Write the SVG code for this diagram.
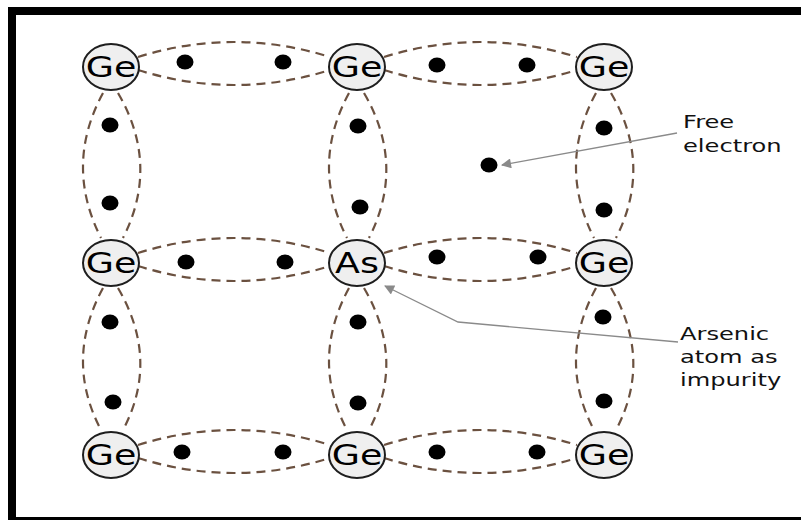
<svg xmlns="http://www.w3.org/2000/svg" width="801" height="520" viewBox="0 0 801 520">
<defs>
<style>
.bond{fill:none;stroke:#6b5140;stroke-width:2.2;stroke-dasharray:9 6}
.atom{fill:#efefef;stroke:#1e1e1e;stroke-width:2}
.el{fill:#000}
.lbl{font-family:"DejaVu Sans","Verdana",sans-serif;font-size:28px;fill:#000;text-anchor:middle}
.note{font-family:"DejaVu Sans","Verdana",sans-serif;font-size:17.5px;fill:#111}
.ptr{fill:none;stroke:#8a8a8a;stroke-width:1.3}
</style>
<marker id="ah" viewBox="0 0 10 10" refX="9" refY="5" markerWidth="12" markerHeight="10" markerUnits="userSpaceOnUse" orient="auto">
<path d="M0,0 L10,5 L0,10 z" fill="#8a8a8a"/>
</marker>
</defs>
<rect width="801" height="520" fill="#fff"/>
<rect x="12" y="11" width="800" height="510" fill="none" stroke="#000" stroke-width="8"/>

<g id="connectors">
<path class="bond" d="M138,57 Q234,27 330,57 M138,70 Q234,100 330,70"/>
<path class="bond" d="M384,57 Q480,27 577,57 M384,70 Q480,100 577,70"/>
<path class="bond" d="M138,253 Q234,223 330,253 M138,266 Q234,296 330,266"/>
<path class="bond" d="M384,253 Q480,223 577,253 M384,266 Q480,296 577,266"/>
<path class="bond" d="M138,445 Q234,415 330,445 M138,458 Q234,488 330,458"/>
<path class="bond" d="M384,445 Q480,415 577,445 M384,458 Q480,488 577,458"/>
<path class="bond" d="M103,93 Q64,165 101,238 M118,93 Q160,165 123,238"/>
<path class="bond" d="M349,93 Q310,165 347,238 M364,93 Q406,165 369,238"/>
<path class="bond" d="M596,93 Q557,165 594,238 M611,93 Q653,165 616,238"/>
<path class="bond" d="M103,288 Q64,360 101,430 M118,288 Q160,360 123,430"/>
<path class="bond" d="M349,288 Q310,360 347,430 M364,288 Q406,360 369,430"/>
<path class="bond" d="M596,288 Q557,360 594,430 M611,288 Q653,360 616,430"/>
<path class="ptr" d="M677,133 L502,165" marker-end="url(#ah)"/>
<path class="ptr" d="M678,342 L458,322 L385,286" marker-end="url(#ah)"/>
</g>

<g id="electrons">
<ellipse class="el" cx="185" cy="62" rx="8.5" ry="7.5"/>
<ellipse class="el" cx="283" cy="62" rx="8.5" ry="7.5"/>
<ellipse class="el" cx="437" cy="65" rx="8.5" ry="7.5"/>
<ellipse class="el" cx="527" cy="65" rx="8.5" ry="7.5"/>
<ellipse class="el" cx="186" cy="262" rx="8.5" ry="7.5"/>
<ellipse class="el" cx="285" cy="262" rx="8.5" ry="7.5"/>
<ellipse class="el" cx="437" cy="257" rx="8.5" ry="7.5"/>
<ellipse class="el" cx="538" cy="257" rx="8.5" ry="7.5"/>
<ellipse class="el" cx="182" cy="452" rx="8.5" ry="7.5"/>
<ellipse class="el" cx="283" cy="452" rx="8.5" ry="7.5"/>
<ellipse class="el" cx="437" cy="452" rx="8.5" ry="7.5"/>
<ellipse class="el" cx="537" cy="452" rx="8.5" ry="7.5"/>
<ellipse class="el" cx="110" cy="125" rx="8.5" ry="7.5"/>
<ellipse class="el" cx="110" cy="203" rx="8.5" ry="7.5"/>
<ellipse class="el" cx="110" cy="322" rx="8.5" ry="7.5"/>
<ellipse class="el" cx="113" cy="402" rx="8.5" ry="7.5"/>
<ellipse class="el" cx="358" cy="126" rx="8.5" ry="7.5"/>
<ellipse class="el" cx="360" cy="207" rx="8.5" ry="7.5"/>
<ellipse class="el" cx="358" cy="322" rx="8.5" ry="7.5"/>
<ellipse class="el" cx="358" cy="403" rx="8.5" ry="7.5"/>
<ellipse class="el" cx="604" cy="128" rx="8.5" ry="7.5"/>
<ellipse class="el" cx="604" cy="210" rx="8.5" ry="7.5"/>
<ellipse class="el" cx="603" cy="317" rx="8.5" ry="7.5"/>
<ellipse class="el" cx="604" cy="401" rx="8.5" ry="7.5"/>
<ellipse class="el" cx="489" cy="165" rx="8.5" ry="7.5"/>
</g>

<g id="n11"><ellipse class="atom" cx="111" cy="67" rx="28" ry="23"/><text class="lbl" transform="translate(111,77) scale(1.3,1)">Ge</text></g>
<g id="n12"><ellipse class="atom" cx="357" cy="67" rx="28" ry="23"/><text class="lbl" transform="translate(357,77) scale(1.3,1)">Ge</text></g>
<g id="n13"><ellipse class="atom" cx="604" cy="67" rx="28" ry="23"/><text class="lbl" transform="translate(604,77) scale(1.3,1)">Ge</text></g>
<g id="n21"><ellipse class="atom" cx="111" cy="263" rx="28" ry="23"/><text class="lbl" transform="translate(111,273) scale(1.3,1)">Ge</text></g>
<g id="n22"><ellipse class="atom" cx="357" cy="263" rx="28" ry="23"/><text class="lbl" transform="translate(357,273) scale(1.3,1)">As</text></g>
<g id="n23"><ellipse class="atom" cx="604" cy="263" rx="28" ry="23"/><text class="lbl" transform="translate(604,273) scale(1.3,1)">Ge</text></g>
<g id="n31"><ellipse class="atom" cx="111" cy="455" rx="28" ry="23"/><text class="lbl" transform="translate(111,465) scale(1.3,1)">Ge</text></g>
<g id="n32"><ellipse class="atom" cx="357" cy="455" rx="28" ry="23"/><text class="lbl" transform="translate(357,465) scale(1.3,1)">Ge</text></g>
<g id="n33"><ellipse class="atom" cx="604" cy="455" rx="28" ry="23"/><text class="lbl" transform="translate(604,465) scale(1.3,1)">Ge</text></g>

<g id="label-free">
<text class="note" transform="translate(683,128) scale(1.38,1)">Free</text>
<text class="note" transform="translate(683,152) scale(1.38,1)">electron</text>
</g>
<g id="label-arsenic">
<text class="note" transform="translate(680,340) scale(1.38,1)">Arsenic</text>
<text class="note" transform="translate(680,363) scale(1.38,1)">atom as</text>
<text class="note" transform="translate(680,386) scale(1.38,1)">impurity</text>
</g>
</svg>
